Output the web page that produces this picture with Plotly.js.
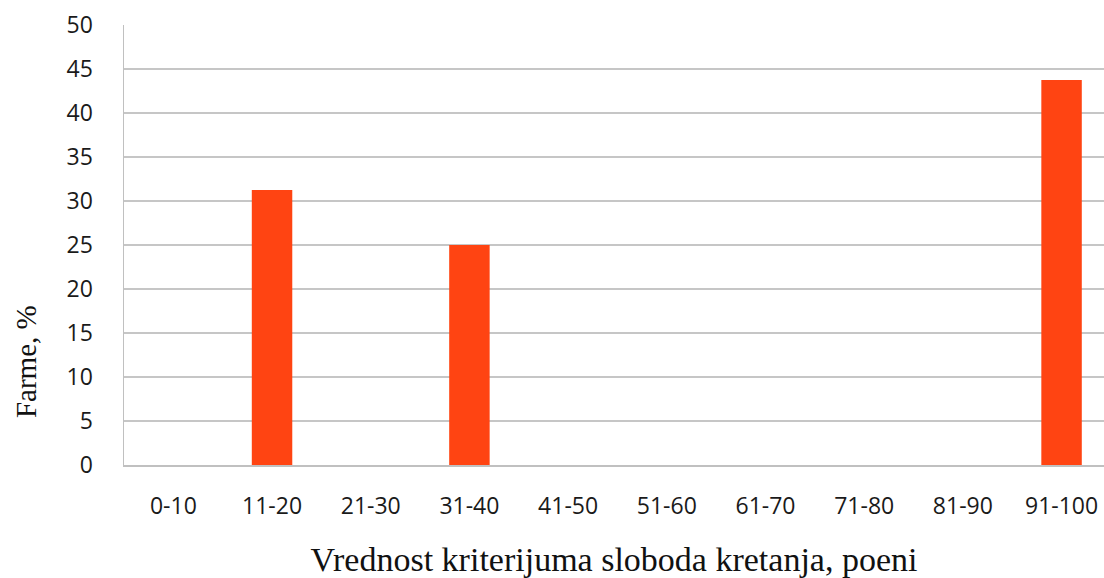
<!DOCTYPE html>
<html>
<head>
<meta charset="utf-8">
<script src="https://cdn.plot.ly/plotly-3.0.1.min.js"></script>
<style>html,body{margin:0;padding:0;background:#fff;}#chart{width:1104px;height:578px;}</style>
</head>
<body>
<div id="chart"></div>
<script>
const categories = ["0-10","11-20","21-30","31-40","41-50","51-60","61-70","71-80","81-90","91-100"];
const farmsPercent = [0, 31.25, 0, 25, 0, 0, 0, 0, 0, 43.75];
const yTicks = [0,5,10,15,20,25,30,35,40,45,50];
const xTitle = "Vrednost kriterijuma sloboda kretanja, poeni";
const yTitle = "Farme, %";

const trace = {
  type: "bar",
  x: categories,
  y: farmsPercent,
  width: 0.41,
  marker: {color: "#FF4412", line: {width: 0}},
  hoverinfo: "x+y"
};

const layout = {
  width: 1104, height: 578,
  margin: {l: 124, r: 0, t: 25, b: 113},
  paper_bgcolor: "#ffffff",
  plot_bgcolor: "#ffffff",
  showlegend: false,
  xaxis: {
    type: "category",
    range: [-0.5, 9.43],
    showgrid: false,
    showline: true, linecolor: "#c0c0c0", linewidth: 1.5,
    ticks: "",
    ticklabelstandoff: 20,
    tickfont: {family: "Open Sans, DejaVu Sans, sans-serif", size: 23, color: "#1a1a1a"},
    title: {text: xTitle, font: {family: "Liberation Serif, DejaVu Serif, serif", size: 34, color: "#111"}, standoff: 30}
  },
  yaxis: {
    range: [0, 50],
    tickvals: yTicks,
    showgrid: true, gridcolor: "#c6c6c6", gridwidth: 1.3,
    showline: true, linecolor: "#c0c0c0", linewidth: 1.5,
    zeroline: false,
    ticks: "",
    ticklabelstandoff: 25,
    tickfont: {family: "Open Sans, DejaVu Sans, sans-serif", size: 23, color: "#1a1a1a"},
    title: {text: ""}
  },
  annotations: [{
    text: yTitle, xref: "paper", yref: "paper",
    x: -0.1, y: 0.234, xanchor: "center", yanchor: "middle",
    textangle: -90, showarrow: false,
    font: {family: "Liberation Serif, DejaVu Serif, serif", size: 29, color: "#111"}
  }]
};

Plotly.newPlot("chart", [trace], layout, {displayModeBar: false, staticPlot: true});
</script>
</body>
</html>
